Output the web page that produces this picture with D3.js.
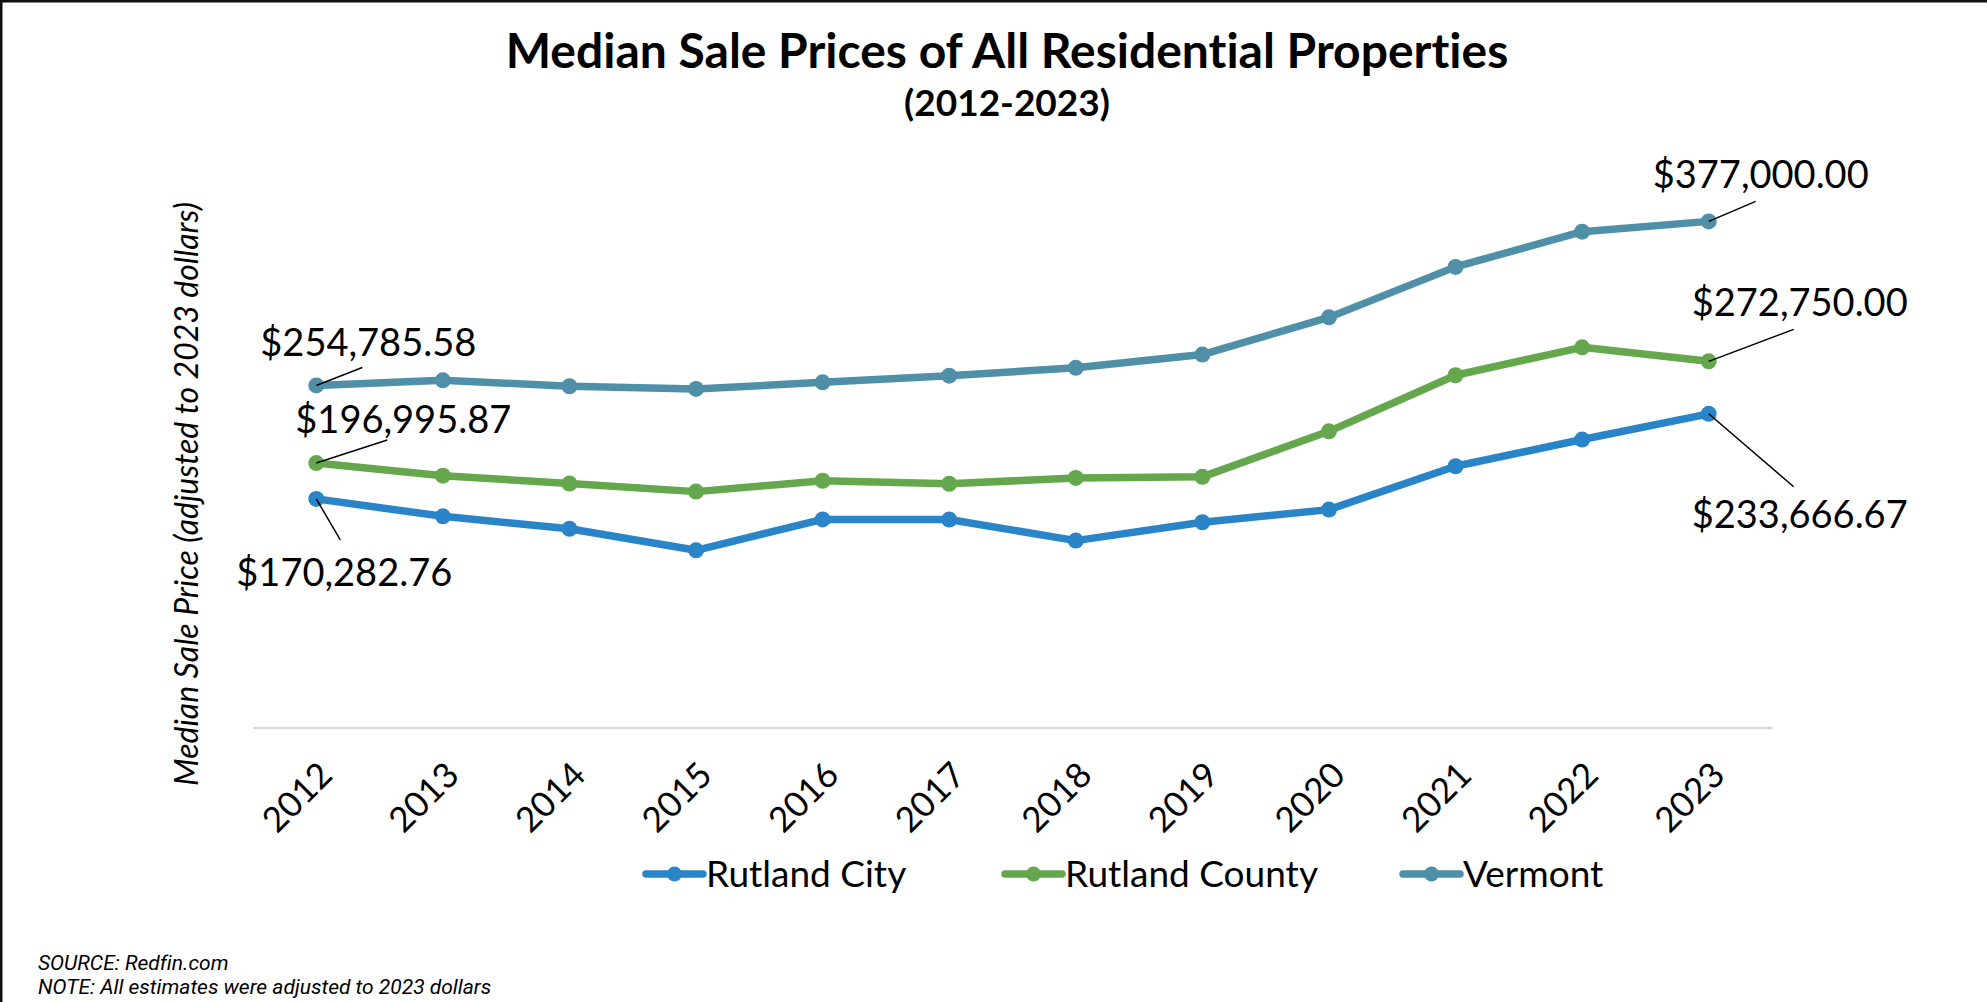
<!DOCTYPE html>
<html>
<head>
<meta charset="utf-8">
<script src="https://cdn.jsdelivr.net/npm/d3@7"></script>
<style>
  body { margin: 0; background: #fff; }
  text { font-family: Lato, "Noto Sans", sans-serif; fill: #000; font-variant-ligatures: none; font-feature-settings: "liga" 0, "clig" 0, "dlig" 0, "calt" 0; }
</style>
</head>
<body>
<div class="priceChart"></div>
<script>
var years = ["2012", "2013", "2014", "2015", "2016", "2017", "2018", "2019", "2020", "2021", "2022", "2023"];
var seriesNames = ["Rutland City", "Rutland County", "Vermont"];
var rutlandCity = [170282.76, 157300, 148000, 132000, 155000, 154900, 139200, 152900, 162300, 194600, 214500, 233666.67];
var rutlandCounty = [196995.87, 187600, 181700, 175700, 183800, 181500, 185900, 186700, 220600, 262400, 283200, 272750];
var vermont = [254785.58, 258600, 254200, 252200, 257100, 262100, 267900, 277800, 305500, 343100, 369300, 377000];
var colors = ["#2a84c8", "#64a74c", "#4f8fa7"];

var width = 1987;
var height = 1002;

var series = [
    { name: seriesNames[0], values: rutlandCity, color: colors[0] },
    { name: seriesNames[1], values: rutlandCounty, color: colors[1] },
    { name: seriesNames[2], values: vermont, color: colors[2] }
];

// label offsets (first point, last point) per series: leader end + text pos
var labelOffsets = [
    [{ lx: 24, ly: 41, tx: 28, ty: 87 }, { lx: 85, ly: 73, tx: 91, ty: 114 }],
    [{ lx: 71, ly: -23, tx: 87, ty: -30 }, { lx: 85, ly: -32, tx: 91, ty: -45 }],
    [{ lx: 46, ly: -18, tx: 52, ty: -29 }, { lx: 47, ly: -20, tx: 52, ty: -33 }]
];
var legendX = [646, 1005, 1403];

var x = d3.scalePoint()
    .domain(years)
    .range([253, 1772])
    .padding(0.5);

var y = d3.scaleLinear()
    .domain([0, 400000])
    .range([727.5, 190.5]);

var canvas = d3.select(".priceChart")
    .append("svg")
    .attr("width", width)
    .attr("height", height);

canvas.append("rect")
    .attr("width", width)
    .attr("height", height)
    .attr("fill", "#fff");

// frame (top + left edges visible)
canvas.append("path")
    .attr("d", "M1," + height + "V1H" + width)
    .attr("fill", "none")
    .attr("stroke", "#111")
    .attr("stroke-width", 3);

canvas.append("text")
    .attr("x", 1007)
    .attr("y", 68)
    .style("text-anchor", "middle")
    .style("font-weight", "bold")
    .style("font-size", "48px")
    .text("Median Sale Prices of All Residential Properties");

canvas.append("text")
    .attr("x", 1007)
    .attr("y", 116)
    .style("text-anchor", "middle")
    .style("font-weight", "bold")
    .style("font-size", "37px")
    .text("(2012-2023)");

var xAxis = d3.axisBottom(x).tickSize(0).tickPadding(0);

var axisG = canvas.append("g")
    .attr("class", "x axis")
    .attr("transform", "translate(0," + y(0) + ")")
    .call(xAxis);

axisG.select(".domain")
    .attr("stroke", "#d9d9d9")
    .attr("stroke-width", 2.5);

axisG.selectAll("text")
    .attr("y", 0)
    .attr("dy", "0.35em")
    .attr("transform", "translate(9,41) rotate(-45)")
    .style("text-anchor", "end")
    .style("font-family", "Lato, sans-serif")
    .style("font-size", "35px")
    .attr("fill", "#000");

canvas.append("text")
    .attr("transform", "translate(198,494) rotate(-90)")
    .style("text-anchor", "middle")
    .style("font-style", "italic")
    .style("font-size", "32px")
    .text("Median Sale Price (adjusted to 2023 dollars)");

var line = d3.line()
    .x(function(d, i) { return x(years[i]); })
    .y(function(d) { return y(d); });

var groups = canvas.selectAll(".series")
    .data(series)
    .enter().append("g")
    .attr("class", "series");

groups.append("path")
    .attr("d", function(d) { return line(d.values); })
    .attr("fill", "none")
    .attr("stroke", function(d) { return d.color; })
    .attr("stroke-width", 7.5)
    .attr("stroke-linejoin", "round");

groups.selectAll("circle")
    .data(function(d) { return d.values.map(function(v, i) { return { v: v, i: i, color: d.color }; }); })
    .enter().append("circle")
    .attr("cx", function(d) { return x(years[d.i]); })
    .attr("cy", function(d) { return y(d.v); })
    .attr("r", 8)
    .attr("fill", function(d) { return d.color; });

// data labels on first and last points
var fmt = d3.format("$,.2f");
series.forEach(function(s, si) {
    [0, years.length - 1].forEach(function(idx, k) {
        var px = x(years[idx]), py = y(s.values[idx]);
        var o = labelOffsets[si][k];
        canvas.append("line")
            .attr("x1", px).attr("y1", py)
            .attr("x2", px + o.lx).attr("y2", py + o.ly)
            .attr("stroke", "#000")
            .attr("stroke-width", 1.5);
        canvas.append("text")
            .attr("x", px + o.tx)
            .attr("y", py + o.ty)
            .style("text-anchor", "middle")
            .style("font-size", "38px")
            .text(fmt(s.values[idx]));
    });
});

// legend
var legend = canvas.append("g").attr("class", "legend");
series.forEach(function(s, i) {
    var item = legend.append("g").attr("transform", "translate(" + legendX[i] + ",874)");
    item.append("line")
        .attr("x1", 0).attr("x2", 57)
        .attr("stroke", s.color)
        .attr("stroke-width", 7.5)
        .attr("stroke-linecap", "round");
    item.append("circle")
        .attr("cx", 28.5)
        .attr("r", 7.5)
        .attr("fill", s.color);
    item.append("text")
        .attr("x", 60)
        .attr("dy", "0.35em")
        .style("font-size", "37px")
        .text(s.name);
});

canvas.append("text")
    .attr("x", 38)
    .attr("y", 970)
    .style("font-family", "Roboto, sans-serif")
    .style("font-style", "italic")
    .style("font-size", "21px")
    .text("SOURCE: Redfin.com");

canvas.append("text")
    .attr("x", 38)
    .attr("y", 994)
    .style("font-family", "Roboto, sans-serif")
    .style("font-style", "italic")
    .style("font-size", "21px")
    .text("NOTE: All estimates were adjusted to 2023 dollars");
</script>
</body>
</html>
